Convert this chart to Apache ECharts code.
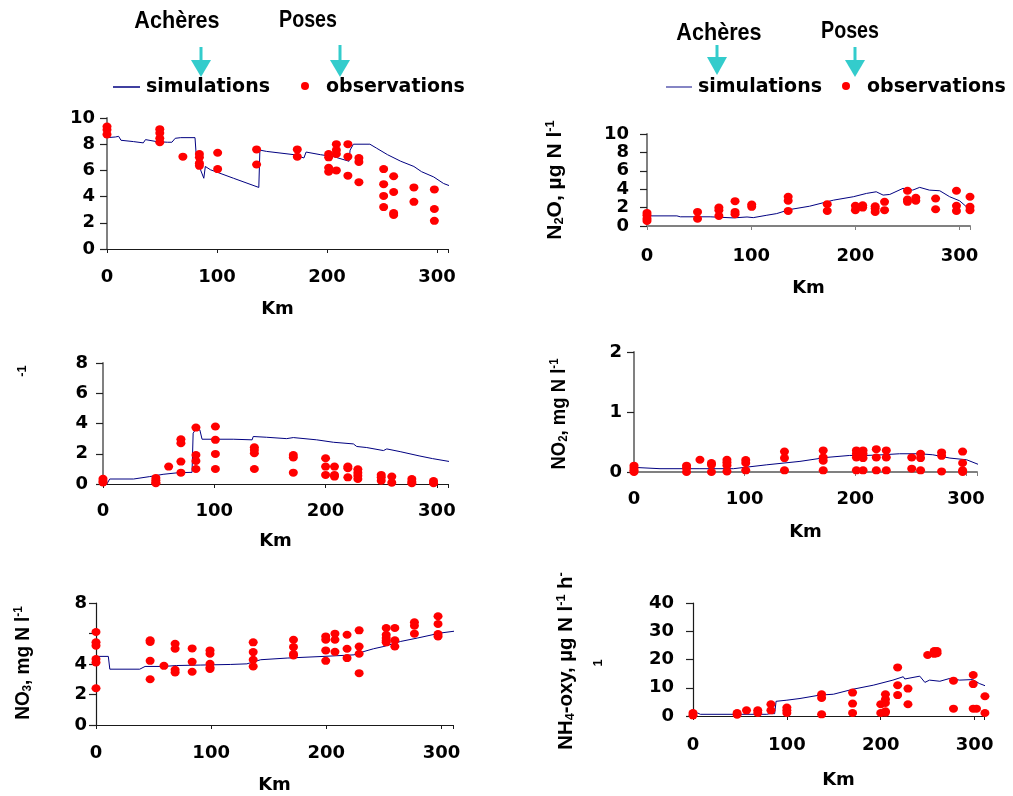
<!DOCTYPE html>
<html>
<head>
<meta charset="utf-8">
<script src="https://cdn.jsdelivr.net/npm/echarts@6.0.0/dist/echarts.min.js"></script>
<style>html,body{margin:0;padding:0;background:#fff;}#c{width:1013px;height:796px;}</style>
</head>
<body>
<div id="c"></div>
<script>
// ---------------- DATA ----------------
const kmTicks = [0, 100, 200, 300];

// Panel 1 (top-left)
const o2Sim = [[0,8.5],[7.6,8.55],[10.6,8.6],[12.7,8.3],[24,8.2],[33,8.1],[35,8.35],[45,8.2],[55,8.15],[59,8.15],[62,8.45],[67,8.5],[80,8.5],[81,7.3],[85,6.05],[88,5.4],[89.4,6.3],[94,6.05],[115,5.4],[138,4.7],[139,7.55],[145,7.45],[170,7.2],[179,6.95],[181,7.4],[194,7.2],[206,7.05],[220,6.7],[221,7.55],[224,8.0],[239,8.0],[245,7.7],[255,7.2],[267,6.7],[279,6.3],[286,5.9],[297,5.5],[306,5.0],[317,4.65]];
const o2ObsKm = [0,48,69,84,100.6,136,173,201.5,208.5,219,229,251.5,260.6,279,297.6];
const o2ObsVals = [[9.35,9.1,8.75],[9.15,8.85,8.45,8.15],[7.05],[7.25,7.0,6.55,6.35],[7.35,6.1],[7.6,6.45],[7.6,7.05],[7.25,7.0,6.2,5.9],[8.0,7.55,7.25,6.0],[8.0,7.05,5.6],[6.95,6.65,5.1],[6.1,4.95,4.05,3.2],[5.55,4.35,2.75,2.6],[4.7,3.6],[4.55,3.05,2.15]];
const o2YTicks = [0,2,4,6,8,10];

// Panel 2 (top-right) N2O
const n2oSim = [[0,1.1],[28.7,1.1],[32,1.0],[60.6,1.0],[83,0.88],[96,0.98],[102,0.91],[115,1.17],[124.5,1.35],[137,1.79],[156,2.15],[179,2.81],[198,3.18],[210.6,3.54],[220,3.72],[226.6,3.36],[233,3.43],[245.7,4.09],[255,3.9],[261.7,4.2],[271,3.9],[281,3.83],[290.5,3.18],[300,2.74],[306,2.15],[316,1.35]];
const n2oObsKm = [0,48.5,69,84.5,100.5,135.5,173,200,207,219,228,250,258,277,297,310];
const n2oObsVals = [[1.42,1.17,0.8,0.55],[1.53,0.8],[2.0,1.72,1.1],[2.7,1.53,1.28],[2.34,2.08],[3.18,2.74,1.64],[2.37,1.64],[2.19,1.72],[2.26,2.0],[2.15,1.9,1.53],[2.63,1.72],[3.83,2.88,2.63],[3.07,2.74],[2.99,1.82],[3.83,2.19,1.64],[3.18,2.08,1.72]];
const n2oYTicks = [0,2,4,6,8,10];

// Panel 3 (middle-left)
const nh4Sim = [[0,0.05],[3.5,0],[6,0.33],[27.5,0.33],[29,0.46],[42,0.49],[54,0.64],[68,0.75],[80,0.77],[81,3.36],[83,3.58],[87,3.58],[89,2.96],[117,2.96],[134,2.92],[135,3.14],[147,3.09],[165,3.0],[171,3.07],[192,2.92],[207,2.76],[225,2.65],[228,2.48],[237,2.41],[252,2.21],[255,2.32],[267,2.14],[284,1.86],[296,1.68],[315,1.44]];
const nh4ObsKm = [0,47.5,59,70,83.5,101,136,171,200,208,220,229,250,259.5,277.5,297];
const nh4ObsVals = [[0.35,0.2,0.1],[0.4,0.25,0.1,0.05],[1.15],[2.96,2.7,1.48,0.75],[3.73,1.92,1.52,0.99],[3.8,2.92,1.99,0.99],[2.43,2.25,2.03,0.99],[1.92,1.75,0.75],[1.7,1.15,0.6],[1.15,0.6,0.49],[1.15,1.04,0.44],[0.97,0.75,0.55,0.33],[0.6,0.44,0.22],[0.49,0.09],[0.33,0.15,0.05],[0.2,0.05]];
const nh4YTicks = [0,2,4,6,8];

// Panel 4 (middle-right) NO2
const no2Sim = [[0,0.077],[23.5,0.055],[59.6,0.055],[89.8,0.055],[120,0.12],[150,0.177],[174,0.243],[195,0.276],[210,0.276],[225,0.287],[240,0.304],[258,0.304],[270,0.287],[285.5,0.232],[300.6,0.204],[315.7,0.094]];
const no2ObsKm = [0,47.5,59.6,70,84,101,136,171,201,207,219,228,251,259,278,297];
const no2ObsVals = [[0.105,0.066,0.028,0.0],[0.105,0.066,0.0],[0.204],[0.15,0.12,0.0],[0.204,0.16,0.11,0.01],[0.2,0.15,0.028],[0.34,0.232,0.028],[0.36,0.243,0.188,0.028],[0.36,0.304,0.243,0.028],[0.36,0.304,0.232,0.028],[0.38,0.243,0.028],[0.36,0.243,0.028],[0.243,0.055],[0.304,0.232,0.028],[0.326,0.27,0.01],[0.34,0.15,0.028,0.0]];
const no2YTicks = [0,1,2];

// Panel 5 (bottom-left) NO3
const no3Sim = [[0,4.5],[10.7,4.5],[12,3.66],[38,3.66],[42.6,3.84],[58.6,3.84],[70,3.9],[90.5,3.93],[116.6,3.97],[131,4.01],[143,4.28],[166,4.39],[198,4.5],[224,4.6],[232.7,4.82],[241,5.0],[250,5.15],[264.6,5.48],[279,5.7],[299,6.03],[314,6.18]];
const no3ObsKm = [0,47,59,68.7,83.5,99,136.5,171.5,199.5,207.5,218,228.5,252,259.5,276.5,297];
const no3ObsVals = [[6.1,5.42,5.2,4.32,4.1,2.41],[5.55,5.44,4.21,3.0],[3.88],[5.33,5.0,3.62,3.44],[5.02,4.14,3.49],[4.89,4.67,4.01,3.77,3.68],[5.42,4.78,4.28,3.84],[5.59,5.11,4.65,4.56],[5.81,5.59,4.89,4.21],[5.99,5.59,4.8],[5.92,5.0,4.39],[6.21,5.15,4.67,3.4],[6.36,5.92,5.7,5.53,5.42],[6.36,5.55,5.15],[6.73,6.51,5.99],[7.13,6.62,5.96,5.81]];
const no3YTicks = [0,2,4,6,8];
const no3YLabels = [0,2,4,8];

// Panel 6 (bottom-right) NH4-oxy
const oxySim = [[0,0],[5,1.07],[7.8,0.6],[43,0.6],[78.6,0.6],[82,0.83],[87,0.83],[88.5,5.2],[100,5.6],[114,6.2],[135,7.4],[149.5,7.7],[170.7,9.5],[192,10.9],[213,12.7],[224,13.9],[225.6,13.1],[241.6,14.1],[243,14.2],[247,11.9],[252,12.7],[263,12.3],[273.5,13.3],[284,12.7],[298,12.9],[305,11.5],[316,10.1]];
const oxyObsKm = [0,47,57,69,83,100,137,170,200,205,218,229,250,257,260,277.5,298.5,302,311];
const oxyObsVals = [[1.07,0.24],[1.07,0.47],[2.0],[2.0,1.07],[4.15,2.0],[2.97,2.0,1.07],[7.7,6.4,0.6],[8.3,4.4,1.07],[4.15,1.07],[7.7,5.9,4.6,1.66,1.2],[17.2,10.9,7.4],[9.7,4.15],[21.6],[23.0,22.0],[23.0,22.2],[12.5,2.6],[14.5,11.3,2.6],[2.6],[7.0,1.07]];
const oxyYTicks = [0,10,20,30,40];

// ---------------- LAYOUT ----------------
const FONT = 'DejaVu Sans';
const GREY = {color:'#808080', width:2};
const DARK = {color:'#1a1a1a', width:1.2};
const panels = [
  {sim:o2Sim,  km:o2ObsKm,  vals:o2ObsVals,  ticks:o2YTicks,  labels:o2YTicks,  g:{left:107,top:118,width:341,height:131}, yM:12, xM:19, gap:51, xl:DARK, yl:GREY},
  {sim:n2oSim, km:n2oObsKm, vals:n2oObsVals, ticks:n2oYTicks, labels:n2oYTicks, g:{left:647,top:134,width:323,height:92},  yM:18, xM:21, gap:53, xl:GREY, yl:GREY},
  {sim:nh4Sim, km:nh4ObsKm, vals:nh4ObsVals, ticks:nh4YTicks, labels:nh4YTicks, g:{left:103,top:363,width:345,height:121}, yM:15, xM:18, gap:48, xl:DARK, yl:GREY},
  {sim:no2Sim, km:no2ObsKm, vals:no2ObsVals, ticks:no2YTicks, labels:no2YTicks, g:{left:634,top:352,width:343,height:120}, yM:12, xM:18, gap:51, xl:GREY, yl:GREY},
  {sim:no3Sim, km:no3ObsKm, vals:no3ObsVals, ticks:no3YTicks, labels:no3YLabels,g:{left:96, top:603,width:357,height:122}, yM:9,  xM:19, gap:51, xl:DARK, yl:DARK},
  {sim:oxySim, km:oxyObsKm, vals:oxyObsVals, ticks:oxyYTicks, labels:oxyYTicks, g:{left:693,top:603,width:291,height:113}, yM:19, xM:20, gap:55, xl:DARK, yl:DARK}
];

function pts(kms, vals){ const o=[]; kms.forEach((k,i)=>vals[i].forEach(v=>o.push([k,v]))); return o; }

const grid=[], xAxis=[], yAxis=[], series=[];
panels.forEach((p,i)=>{
  grid.push(Object.assign({}, p.g));
  xAxis.push({
    gridIndex:i, type:'value', min:kmTicks[0], max:310, interval:kmTicks[1]-kmTicks[0],
    axisLine:{show:true, onZero:false, lineStyle:p.xl},
    axisTick:{show:true, length:4, lineStyle:{color:p.xl.color, width:1},
      interval:(idx,v)=>kmTicks.includes(v)},
    splitLine:{show:false},
    axisLabel:{margin:p.xM, fontFamily:FONT, fontWeight:'bold', fontSize:18, color:'#000',
      formatter:v=>kmTicks.includes(v)?String(v):''},
    name:'Km', nameLocation:'middle', nameGap:p.gap,
    nameTextStyle:{fontFamily:FONT, fontWeight:'bold', fontSize:18, color:'#000'}
  });
  const t=p.ticks;
  yAxis.push({
    gridIndex:i, type:'value', min:t[0], max:t[t.length-1], interval:t[1]-t[0],
    axisLine:{show:true, lineStyle:p.yl},
    axisTick:{show:true, length:7, lineStyle:{color:'#222', width:1.2}},
    splitLine:{show:false},
    axisLabel:{margin:p.yM, fontFamily:FONT, fontWeight:'bold', fontSize:18, color:'#000',
      formatter:v=>p.labels.includes(v)?String(v):''}
  });
  series.push({type:'line', xAxisIndex:i, yAxisIndex:i, data:p.sim, symbol:'none', clip:false,
    lineStyle:{color:'#000080', width:1}, z:2, silent:true});
  series.push({type:'scatter', xAxisIndex:i, yAxisIndex:i, data:pts(p.km,p.vals), clip:false,
    symbol:'circle', symbolSize:[9,8], itemStyle:{color:'#ff0000', opacity:1}, z:3, silent:true});
});

// ---------------- GRAPHICS (annotations, legend, axis titles) ----------------
const CYAN = '#33cccc';
function arrow(cx, y0, yh, y1){
  return [
    {type:'rect', shape:{x:cx-1.5, y:y0, width:3, height:yh-y0}, style:{fill:CYAN}},
    {type:'polygon', shape:{points:[[cx-10,yh],[cx+10,yh],[cx,y1]]}, style:{fill:CYAN}}
  ];
}
function txt(text, x, y, font, align, extra){
  return Object.assign({type:'text', x:x, y:y, style:{text:text, font:font, fill:'#000', align:align||'center', verticalAlign:'middle'}}, extra||{});
}
const headFont = 'bold 24px "Liberation Sans"';
const legFont = 'bold 19px "DejaVu Sans"';
const TF = 'Liberation Sans';
const rich = {
  n:{fontFamily:TF, fontWeight:'bold', fontSize:21, lineHeight:22, fill:'#000', verticalAlign:'middle'},
  sub:{fontFamily:TF, fontWeight:'bold', fontSize:13, lineHeight:12, fill:'#000', verticalAlign:'bottom'},
  sup:{fontFamily:TF, fontWeight:'bold', fontSize:13, lineHeight:12, fill:'#000', verticalAlign:'top'}
};
function ytitle(text, x, y, sx){
  return {type:'text', x:x, y:y, rotation:Math.PI/2, scaleX:sx,
    style:{text:text, rich:rich, align:'center', verticalAlign:'middle', fill:'#000', font:'bold 21px "Liberation Sans"'}};
}

const graphic = [
  txt('Achères', 177, 21, headFont, 'center', {scaleX:0.9}),
  txt('Poses', 308, 20, headFont, 'center', {scaleX:0.82}),
  txt('Achères', 719, 33, headFont, 'center', {scaleX:0.9}),
  txt('Poses', 850, 31, headFont, 'center', {scaleX:0.82}),
  ...arrow(201,47,60,77), ...arrow(340,45,60,77),
  ...arrow(717,45,57,75), ...arrow(855,47,60,77),
  {type:'line', shape:{x1:113,y1:87,x2:140,y2:87}, style:{stroke:'#000080', lineWidth:1.5}},
  txt('simulations', 146, 87, legFont, 'left'),
  {type:'circle', shape:{cx:305, cy:86, r:4}, style:{fill:'#ff0000'}},
  txt('observations', 326, 87, legFont, 'left'),
  {type:'line', shape:{x1:666,y1:87,x2:692,y2:87}, style:{stroke:'#5c5cb0', lineWidth:1.5}},
  txt('simulations', 698, 87, legFont, 'left'),
  {type:'circle', shape:{cx:846, cy:86, r:4}, style:{fill:'#ff0000'}},
  txt('observations', 867, 87, legFont, 'left'),
  ytitle('{n|N}{sub|2}{n|O, µg N l}{sup|-1}', 555, 180, 1.0),
  ytitle('{sup|-1}', 22, 371, 1),
  ytitle('{n|NO}{sub|2}{n|, mg N l}{sup|-1}', 559, 414, 0.88),
  ytitle('{n|NO}{sub|3}{n|, mg N l}{sup|-1}', 23, 663, 0.9),
  ytitle('{n|NH}{sub|4}{n|-oxy, µg N l}{sup|-1}{n| h}{sup|-}', 566, 661, 0.97),
  ytitle('{sup|1}', 598, 663, 1)
];

const chart = echarts.init(document.getElementById('c'), null, {renderer:'canvas'});
chart.setOption({animation:false, backgroundColor:'#fff', grid, xAxis, yAxis, series, graphic});
</script>
</body>
</html>
